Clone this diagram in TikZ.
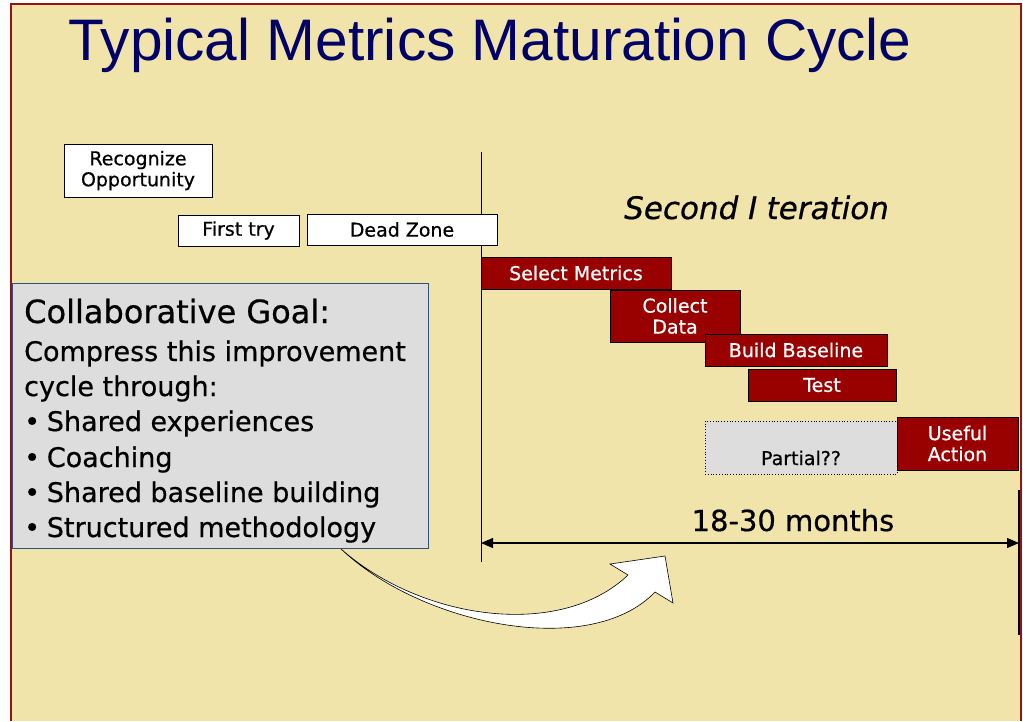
\documentclass[tikz,border=0pt]{standalone}
\usepackage{fontspec}
\setmainfont[FakeBold=0.6]{DejaVu Sans}
\newfontfamily\titlefont{Liberation Sans}
\usetikzlibrary{arrows.meta,positioning}
\definecolor{slidebg}{RGB}{241,228,171}
\definecolor{framered}{RGB}{150,20,20}
\definecolor{stagered}{RGB}{153,0,0}
\definecolor{goalgray}{RGB}{221,221,221}
\definecolor{goalblue}{RGB}{50,80,130}
\definecolor{titlenavy}{RGB}{0,0,102}
\begin{document}
\begin{tikzpicture}[x=1pt,y=-1pt,
    plainbox/.style={draw=black,fill=white,line width=0.8pt,inner sep=0pt,align=center,
      font=\fontsize{19}{21}\selectfont},
    stagebox/.style={plainbox,fill=stagered,text=white},
    goalline/.style={anchor=base west,inner sep=0pt,font=\fontsize{27}{30}\selectfont}]
    \useasboundingbox (0,0) rectangle (1023,721);
    \fill[slidebg] (11,4) rectangle (1021,721);
    \draw[framered,line width=2.5pt] (11,721) -- (11,4) -- (1021,4) -- (1021,721);

    \node[anchor=base west,inner sep=0pt,text=titlenavy,font=\titlefont\fontsize{58.6}{60}\selectfont]
      (title) at (68,60) {Typical Metrics Maturation Cycle};

    \coordinate (axistop) at (481,152);
    \coordinate (axisbot) at (481,562);
    \draw[line width=1pt] (axistop) -- (axisbot);

    \node[plainbox,minimum width=148,minimum height=53] (recog) at (138,170.5) {Recognize\\Opportunity};
    \node[plainbox,minimum width=121,minimum height=31] (first) at (238.5,230.5) {First try};
    \node[plainbox,minimum width=190,minimum height=31] (dead) at (402,229.5) {Dead Zone};

    \node[anchor=base west,inner sep=0pt,font=\fontsize{31}{34}\selectfont\itshape]
      (iter) at (624,219) {Second I\hspace{0.3em}teration};

    \node[stagebox,minimum width=190,minimum height=32] (select) at (576,273) {Select Metrics};
    \node[stagebox,minimum width=130,minimum height=52] (collect) at (675,316) {Collect\\Data};
    \node[stagebox,minimum width=182,minimum height=32] (build) at (796,350) {Build Baseline};
    \node[stagebox,minimum width=148,minimum height=32] (test) at (822,385) {Test};
    \node[plainbox,fill=goalgray,dotted,minimum width=192,minimum height=53] (partial) at (801,447.5) {};
    \node[anchor=base,inner sep=0pt,font=\fontsize{19}{21}\selectfont] (partlbl) at (801,465) {Partial??};
    \node[stagebox,minimum width=121,minimum height=53] (useful) at (957.5,443.5) {Useful\\Action};

    \coordinate (spanL) at (481,543);
    \coordinate (spanR) at (1019,543);
    \draw[{Triangle[length=12pt,width=10pt]}-{Triangle[length=12pt,width=10pt]},line width=1.2pt]
      (spanL) -- (spanR);
    \node[anchor=base,inner sep=0pt,font=\fontsize{29}{32}\selectfont] (months) at (793,531) {18-30 months};
    \coordinate (endtop) at (1019,490);
    \coordinate (endbot) at (1019,635);
    \draw[line width=1.5pt] (endtop) -- (endbot);

    \draw[fill=white,line width=0.6pt] (340,548) .. controls (420,620) and (560,640) .. (628,575)
      -- (610,564) -- (665,556) -- (673,603) -- (655,592)
      .. controls (590,660) and (420,625) .. (340,548) -- cycle;

    \node[draw=goalblue,fill=goalgray,line width=0.8pt,minimum width=416,minimum height=265,inner sep=0pt]
      (goal) at (220,415.5) {};
    \node[goalline,font=\fontsize{32}{34}\selectfont] (goalhead) at (24,323) {Collaborative Goal:};
    \node[goalline] (goal1) at (24,361) {Compress this improvement};
    \node[goalline] (goal2) at (24,396) {cycle through:};
    \foreach \txt/\y [count=\i] in {Shared experiences/431,Coaching/467,Shared baseline building/502,Structured methodology/537}
      \node[goalline] (bullet\i) at (24,\y) {•\hspace{0.25em}\txt};
  \end{tikzpicture}
\end{document}
